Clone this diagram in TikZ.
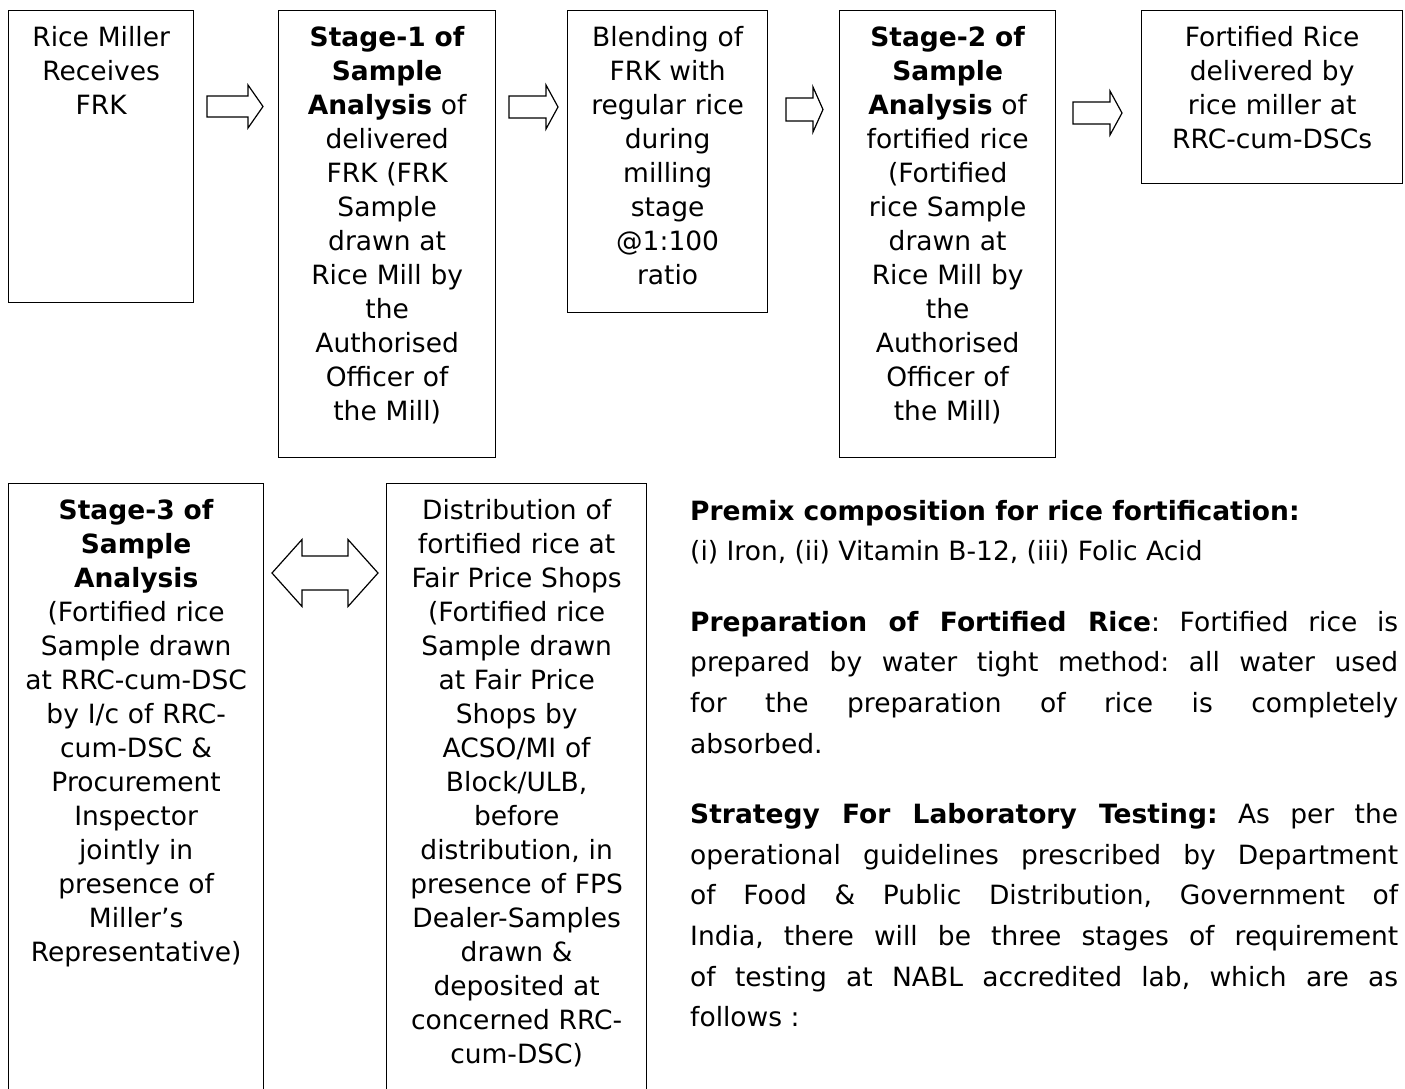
\documentclass[tikz,border=0pt]{standalone}
\usepackage{fontspec}
\setmainfont{DejaVu Sans}
\newcommand\fs{\rule{0pt}{25pt}}
\newcommand\rarr[6]{%
  \draw[barrow] ({#1},{#4-#5}) -- ({#2},{#4-#5}) -- ({#2},{#4-#6}) -- ({#3},{#4})
    -- ({#2},{#4+#6}) -- ({#2},{#4+#5}) -- ({#1},{#4+#5}) -- cycle;}
\tikzset{
  box/.style={draw, line width=1.3pt, inner sep=0pt, anchor=north west},
  btxt/.style={anchor=north, inner sep=0pt, align=center,
    font=\fontsize{26.5pt}{34pt}\selectfont},
  barrow/.style={draw, line width=1.2pt, fill=white, line join=miter},
  rtxt/.style={anchor=north west, inner sep=0pt, align=justify, text width=708pt,
    font=\fontsize{26.5pt}{40.7pt}\selectfont},
}
\begin{document}
\begin{tikzpicture}[x=1pt,y=-1pt]
\useasboundingbox (0,0) rectangle (1405,1088);
\clip (0,0) rectangle (1405,1088);
% top row boxes
\node[box, minimum width=185pt, minimum height=292pt] (b1) at (8,10) {};
\node[box, minimum width=217pt, minimum height=447pt] (b2) at (278,10) {};
\node[box, minimum width=200pt, minimum height=302pt] (b3) at (567,10) {};
\node[box, minimum width=216pt, minimum height=447pt] (b4) at (839,10) {};
\node[box, minimum width=261pt, minimum height=173pt] (b5) at (1141,10) {};
% bottom row boxes
\node[box, minimum width=255pt, minimum height=640pt] (b6) at (8,483) {};
\node[box, minimum width=260pt, minimum height=640pt] (b7) at (386,483) {};
% texts
\node[btxt, text width=181pt] (t1) at ([yshift=-11.5pt]b1.north) {\fs Rice Miller\\Receives\\FRK};
\node[btxt, text width=213pt] (t2) at ([yshift=-11.5pt]b2.north) {\fs\textbf{Stage-1 of}\\\textbf{Sample}\\\textbf{Analysis} of\\delivered\\FRK (FRK\\Sample\\drawn at\\Rice Mill by\\the\\Authorised\\Officer of\\the Mill)};
\node[btxt, text width=196pt] (t3) at ([yshift=-11.5pt]b3.north) {\fs Blending of\\FRK with\\regular rice\\during\\milling\\stage\\@1:100\\ratio};
\node[btxt, text width=212pt] (t4) at ([yshift=-11.5pt]b4.north) {\fs\textbf{Stage-2 of}\\\textbf{Sample}\\\textbf{Analysis} of\\fortified rice\\(Fortified\\rice Sample\\drawn at\\Rice Mill by\\the\\Authorised\\Officer of\\the Mill)};
\node[btxt, text width=257pt] (t5) at ([yshift=-11.5pt]b5.north) {\fs Fortified Rice\\delivered by\\rice miller at\\RRC-cum-DSCs};
\node[btxt, text width=251pt] (t6) at ([yshift=-11.5pt]b6.north) {\fs\textbf{Stage-3 of}\\\textbf{Sample}\\\textbf{Analysis}\\(Fortified rice\\Sample drawn\\at RRC-cum-DSC\\by I/c of RRC-\\cum-DSC \&\\Procurement\\Inspector\\jointly in\\presence of\\Miller’s\\Representative)};
\node[btxt, text width=256pt] (t7) at ([yshift=-11.5pt]b7.north) {\fs Distribution of\\fortified rice at\\Fair Price Shops\\(Fortified rice\\Sample drawn\\at Fair Price\\Shops by\\ACSO/MI of\\Block/ULB,\\before\\distribution, in\\presence of FPS\\Dealer-Samples\\drawn \&\\deposited at\\concerned RRC-\\cum-DSC)};
% right-hand text
\node[rtxt] (rt) at (690,495) {\frenchspacing\tolerance=10000\relax\fs\textbf{Premix composition for rice fortification:}\\
(i) Iron, (ii) Vitamin B-12, (iii) Folic Acid\par\vspace{29.5pt}
\textbf{Preparation of Fortified Rice}: Fortified rice is\linebreak
prepared by water tight method: all water used\linebreak
for the preparation of rice is completely\linebreak
absorbed.\par\vspace{29.5pt}
\textbf{Strategy For Laboratory Testing:} As per the\linebreak
operational guidelines prescribed by Department\linebreak
of Food \& Public Distribution, Government of\linebreak
India, there will be three stages of requirement\linebreak
of testing at NABL accredited lab, which are as\linebreak
follows :\par};
% block arrows
\rarr{207}{248}{263}{106.5}{10.5}{21.5}
\rarr{509}{546}{558}{107}{11}{22}
\rarr{786}{813}{823}{109.5}{11.5}{22.5}
\rarr{1073}{1110}{1122}{113}{11}{22}
\draw[barrow] (272,573) -- (302,539.5) -- (302,556) -- (348,556) -- (348,539.5)
  -- (378,573) -- (348,606.5) -- (348,590) -- (302,590) -- (302,606.5) -- cycle;
\end{tikzpicture}
\end{document}
